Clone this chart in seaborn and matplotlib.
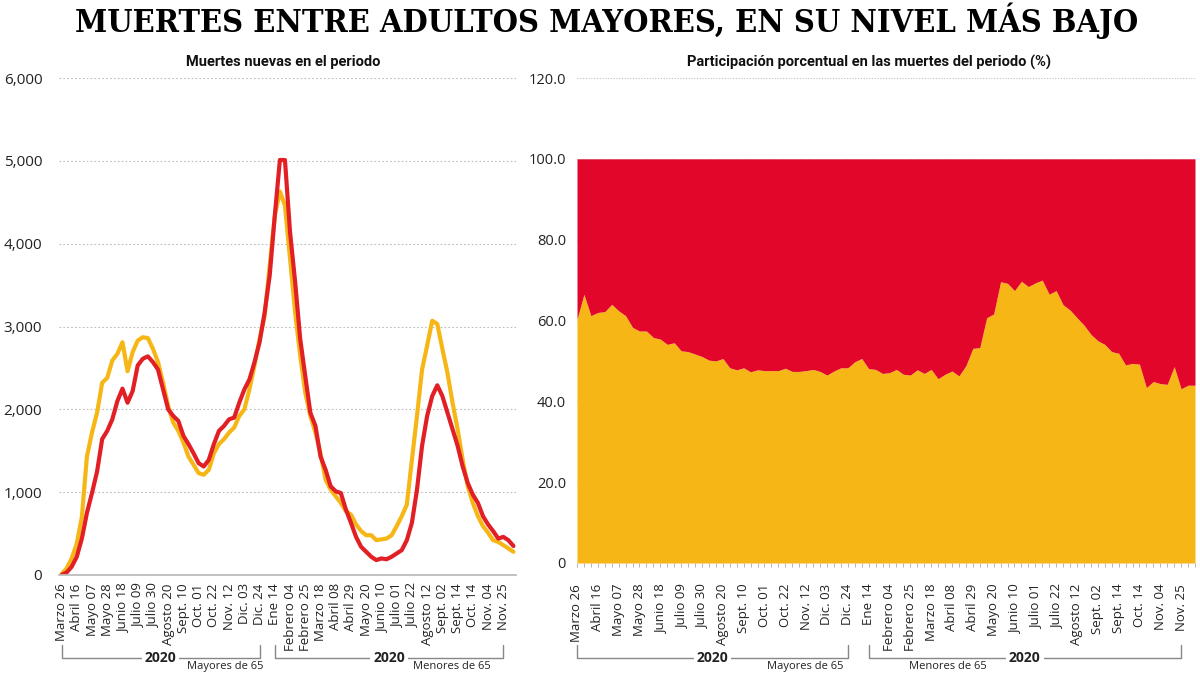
import matplotlib
matplotlib.use('Agg')
import matplotlib.pyplot as plt
import matplotlib.transforms as mtransforms
from matplotlib import font_manager
from matplotlib.lines import Line2D
import seaborn as sns
import pandas as pd
import numpy as np

# datos: semanas desde marzo 2020
semanas = list(range(90))

# muertes nuevas (amarillo / rojo)
mayores = [10, 80, 200, 380, 700, 1430, 1720, 1960, 2320, 2380,
           2590, 2670, 2810, 2460, 2690, 2830, 2870, 2860, 2730, 2570,
           2320, 2040, 1840, 1740, 1600, 1430, 1330, 1230, 1210, 1270,
           1470, 1580, 1640, 1720, 1780, 1920, 2000, 2240, 2530, 2850,
           3130, 3740, 4340, 4630, 4460, 3820, 3170, 2650, 2200, 1920,
           1720, 1470, 1150, 1030, 950, 870, 770, 730, 610, 530,
           480, 480, 420, 430, 440, 480, 590, 710, 850, 1390,
           1920, 2480, 2770, 3070, 3030, 2730, 2440, 2080, 1760, 1390,
           1070, 870, 710, 590, 510, 420, 400, 360, 320, 280]
menores = [0, 30, 100, 220, 440, 750, 990, 1250, 1640, 1740,
           1880, 2100, 2250, 2080, 2220, 2530, 2610, 2640, 2570, 2480,
           2240, 2000, 1920, 1860, 1680, 1580, 1470, 1350, 1310, 1390,
           1580, 1740, 1800, 1880, 1900, 2080, 2240, 2360, 2570, 2810,
           3170, 3620, 4340, 5010, 5010, 4140, 3540, 2850, 2400, 1960,
           1800, 1430, 1270, 1070, 1010, 990, 790, 630, 460, 340,
           280, 220, 180, 200, 190, 220, 260, 300, 420, 630,
           1030, 1560, 1920, 2160, 2290, 2160, 1960, 1760, 1560, 1310,
           1110, 970, 870, 710, 610, 530, 440, 460, 420, 350]

# participación porcentual (serie amarilla)
pct_mayores = [60.3, 66.5, 61.2, 62.0, 62.2, 64.0, 62.4, 61.2, 58.3, 57.4,
               57.4, 55.8, 55.4, 54.1, 54.5, 52.5, 52.3, 51.7, 51.1, 50.2,
               50.0, 50.6, 48.3, 47.8, 48.3, 47.3, 47.8, 47.6, 47.6, 47.6,
               48.2, 47.4, 47.4, 47.6, 47.9, 47.4, 46.5, 47.5, 48.3, 48.3,
               49.8, 50.6, 48.1, 47.9, 46.9, 47.1, 47.9, 46.7, 46.5, 47.8,
               46.9, 47.9, 45.6, 46.7, 47.5, 46.3, 48.8, 53.1, 53.3, 60.7,
               61.6, 69.6, 69.2, 67.4, 69.7, 68.4, 69.3, 70.0, 66.5, 67.4,
               63.9, 62.6, 60.7, 58.9, 56.6, 55.0, 54.1, 52.3, 51.9, 49.0,
               49.4, 49.2, 43.4, 44.9, 44.4, 44.2, 48.6, 43.1, 44.0, 44.0]

etiquetas = ['Marzo 26', 'Abril 16', 'Mayo 07', 'Mayo 28', 'Junio 18', 'Julio 09',
             'Julio 30', 'Agosto 20', 'Sept. 10', 'Oct. 01', 'Oct. 22', 'Nov. 12',
             'Dic. 03', 'Dic. 24', 'Ene 14', 'Febrero 04', 'Febrero 25', 'Marzo 18',
             'Abril 08', 'Abril 29', 'Mayo 20', 'Junio 10', 'Julio 01', 'Julio 22',
             'Agosto 12', 'Sept. 02', 'Sept. 14', 'Oct. 14', 'Nov. 04', 'Nov. 25']
pos_etiquetas = semanas[::3]

yticks_izq = [0, 1000, 2000, 3000, 4000, 5000, 6000]
ylabels_izq = ['0', '1,000', '2,000', '3,000', '4,000', '5,000', '6,000']
yticks_der = [0, 20, 40, 60, 80, 100, 120]
ylabels_der = ['0', '20.0', '40.0', '60.0', '80.0', '100.0', '120.0']

# grupos de años (índice inicial, índice final, texto)
grupos = [(0, 39, '2020'), (42, 87, '2020')]

AMARILLO = '#F6B716'
ROJO = '#E11F25'
ROJO_AREA = '#E1062A'
GRIS = '#BDBDBD'

sns.set_style('white')
disponibles = {f.name for f in font_manager.fontManager.ttflist}


def primera(*nombres):
    for n in nombres:
        if n in disponibles:
            return n
    return 'DejaVu Sans'


plt.rcParams['font.family'] = [primera('Open Sans', 'Noto Sans'), 'DejaVu Sans']
fuente_sub = primera('Liberation Sans Narrow', 'Roboto', 'Open Sans')

fig = plt.figure(figsize=(12, 6.74), dpi=100)
H = 674.0
ax1 = fig.add_axes([59 / 1200, 1 - 575 / H, 457 / 1200, (575 - 78) / H])
ax2 = fig.add_axes([577 / 1200, 1 - 563 / H, 618 / 1200, (563 - 78) / H])

# --- izquierda: líneas ---
df = pd.DataFrame({'semana': semanas, 'mayores': mayores, 'menores': menores})
sns.lineplot(data=df, x='semana', y='mayores', color=AMARILLO, lw=3, ax=ax1)
sns.lineplot(data=df, x='semana', y='menores', color=ROJO, lw=3, ax=ax1)
ax1.set_xlim(-0.5, 89.5)
ax1.set_ylim(0, 6000)
ax1.set_yticks(yticks_izq)
ax1.set_yticklabels(ylabels_izq)
ax1.grid(axis='y', linestyle=(0, (1.5, 2)), color=GRIS, lw=0.8)
ax1.set_axisbelow(True)
for s in ['top', 'right', 'left']:
    ax1.spines[s].set_visible(False)
ax1.spines['bottom'].set_color(GRIS)
ax1.spines['bottom'].set_linewidth(1.3)
ax1.set_xlabel('')
ax1.set_ylabel('')
ax1.tick_params(axis='y', length=0, labelsize=11, pad=12, labelcolor='#222222')
ax1.set_xticks(pos_etiquetas)
ax1.set_xticklabels(etiquetas, rotation=90)
ax1.tick_params(axis='x', length=0, labelsize=9.5, pad=6, labelcolor='#222222')

# --- derecha: área ---
ax2.fill_between(semanas, 0, pct_mayores, color=AMARILLO, lw=0)
ax2.fill_between(semanas, pct_mayores, 100, color=ROJO_AREA, lw=0)
ax2.set_xlim(0, 89)
ax2.set_ylim(0, 120)
ax2.set_yticks(yticks_der)
ax2.set_yticklabels(ylabels_der)
ax2.grid(axis='y', linestyle=(0, (1, 1.5)), color=GRIS, lw=0.8)
ax2.set_axisbelow(True)
for s in ['top', 'right', 'left', 'bottom']:
    ax2.spines[s].set_visible(False)
ax2.tick_params(axis='y', length=0, labelsize=10.5, pad=8, labelcolor='#222222')
ax2.set_xticks(pos_etiquetas)
ax2.set_xticklabels(etiquetas, rotation=90)
ax2.set_xticks(semanas, minor=True)
ax2.tick_params(axis='x', which='both', bottom=True, length=3, color='#AAAAAA',
                width=0.6, direction='out')
ax2.tick_params(axis='x', which='major', labelsize=9.5, pad=12, labelcolor='#222222')

# --- corchetes de años ---
for ax in (ax1, ax2):
    tr = mtransforms.blended_transform_factory(ax.transData, fig.transFigure)
    for ini, fin, txt in grupos:
        y0, y1 = 1 - 645 / H, 1 - 658 / H
        fig.add_artist(Line2D([ini, ini, fin, fin], [y0, y1, y1, y0], transform=tr,
                              color='#888888', lw=1))
        fig.text((ini + fin) / 2, y1, txt, transform=tr, ha='center', va='center',
                 fontsize=10, fontweight='bold', color='#222222',
                 bbox=dict(facecolor='white', edgecolor='none', pad=2))

# subtítulos
fig.text(283 / 1200, 1 - 62 / H, 'Muertes nuevas en el periodo', ha='center', va='center',
         fontsize=10.5, fontweight='bold', family=[fuente_sub, 'DejaVu Sans'], color='#111111')
fig.text(869 / 1200, 1 - 62 / H, 'Participación porcentual en las muertes del periodo (%)',
         ha='center', va='center', fontsize=10.5, fontweight='bold',
         family=[fuente_sub, 'DejaVu Sans'], color='#111111')

# leyenda inferior (en el original queda al borde de la imagen)
for x, t in [(225, 'Mayores de 65'), (452, 'Menores de 65'),
             (805, 'Mayores de 65'), (948, 'Menores de 65')]:
    fig.text(x / 1200, 2 / H, t, ha='center', va='bottom', fontsize=8, color='#222222')

# título: fuente condensada si existe, ajustado al ancho
cond = [f for f in font_manager.fontManager.ttflist
        if f.name == 'DejaVu Serif' and 'condensed' in str(f.stretch)]
if cond:
    kw = dict(family='DejaVu Serif', fontstretch='condensed')
else:
    kw = dict(family=[primera('Liberation Sans Narrow', 'Liberation Serif'), 'DejaVu Serif'])
titulo = fig.text(607 / 1200, 1 - 21 / H, 'MUERTES ENTRE ADULTOS MAYORES, EN SU NIVEL MÁS BAJO',
                  ha='center', va='center', fontsize=30, fontweight='bold', color='black', **kw)
fig.canvas.draw()
ancho = titulo.get_window_extent().width
titulo.set_fontsize(30 * 1065 / ancho)

fig.savefig('out.png', dpi=100)
